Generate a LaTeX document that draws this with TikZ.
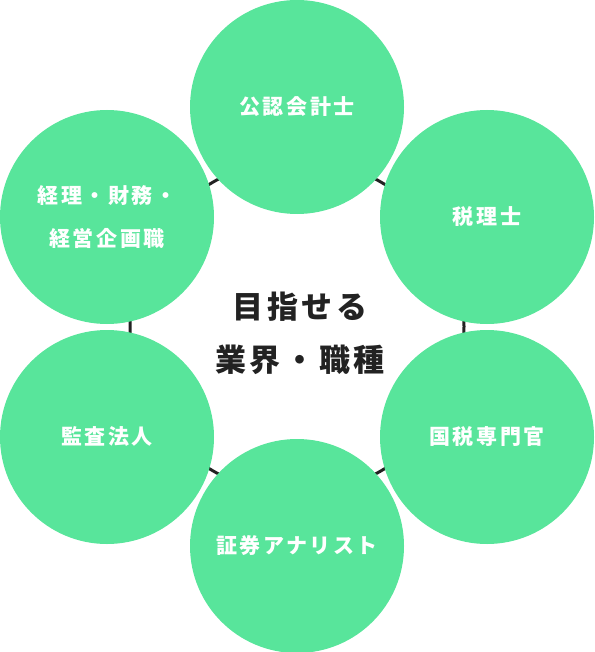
\documentclass[tikz,border=0pt]{standalone}
\usepackage{fontspec}
\setmainfont{Noto Sans CJK JP}
\definecolor{bubblegreen}{HTML}{58E59B}
\definecolor{textdark}{HTML}{222222}
\definecolor{ringdark}{HTML}{222222}
\newcommand\bubblefont{\bfseries\fontsize{21}{43}\selectfont\addfontfeature{LetterSpace=12}}
\newcommand\titlefont{\bfseries\fontsize{31}{53}\selectfont\addfontfeature{LetterSpace=12}}
\begin{document}
\begin{tikzpicture}[x=1pt,y=-1pt,
  bubble/.style={circle, fill=bubblegreen, minimum size=214pt, inner sep=0pt,
    text=white, font=\bubblefont, align=center},
  ring/.style={draw=ringdark, line width=3pt}]
\useasboundingbox (0,0) rectangle (594,652);
\coordinate (O) at (297,326.5);
\draw[ring] (O) circle[radius=167];
\node[bubble] (c1) at (297,107) {公認会計士};
\node[bubble] (c2) at (487,217) {税理士};
\node[bubble] (c3) at (487,437) {国税専門官};
\node[bubble] (c4) at (297,546) {証券アナリスト};
\node[bubble] (c5) at (107,437) {監査法人};
\node[bubble] (c6) at (107,217) {経理・財務・\\経営企画職};
\node[font=\titlefont, text=textdark, align=center] (title) at (300,333.5) {目指せる\\業界・職種};
\end{tikzpicture}
\end{document}
